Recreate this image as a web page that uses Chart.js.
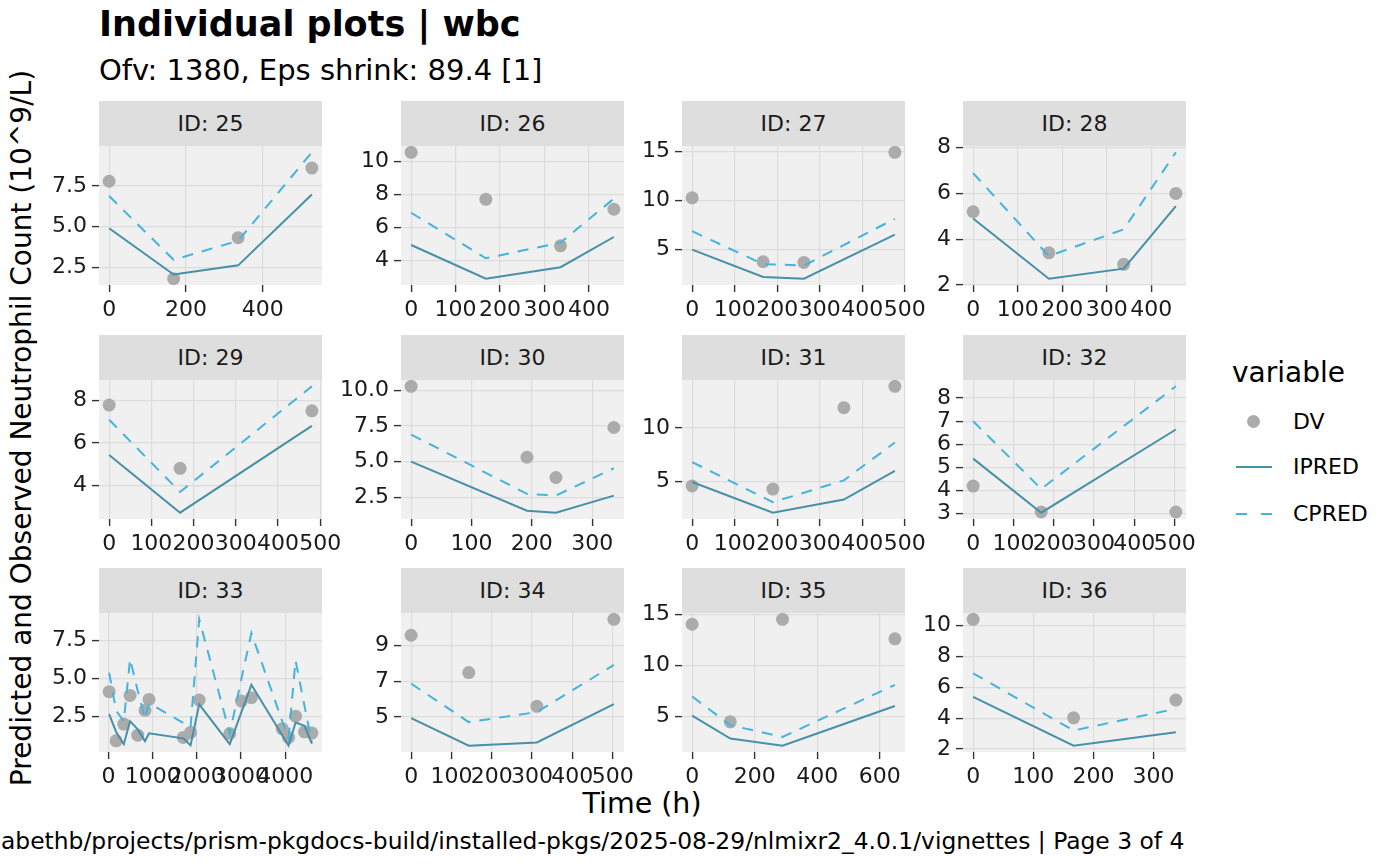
<!DOCTYPE html>
<html>
<head>
<meta charset="utf-8">
<script src="https://cdn.jsdelivr.net/npm/chart.js@4.4.1/dist/chart.umd.min.js"></script>
<style>
  body { margin:0; background:#fff; font-family:'DejaVu Sans', sans-serif; color:#000; }
  #wrap { position:relative; width:1400px; height:865px; overflow:hidden; background:#fff; }
  .txt { position:absolute; white-space:nowrap; line-height:1; }
  .strip { position:absolute; background:#DEDEDE; color:#1a1a1a; font-size:22px; line-height:1;
           display:flex; align-items:center; justify-content:center; }
  canvas { position:absolute; }
</style>
</head>
<body>
<div id="wrap">
  <div class="txt" style="left:99px;top:7px;font-size:35px;font-weight:bold;">Individual plots | wbc</div>
  <div class="txt" style="left:99px;top:56px;font-size:29px;">Ofv: 1380, Eps shrink: 89.4 [1]</div>
  <div class="txt" style="left:22px;top:428px;font-size:28px;transform:translate(-50%,-50%) rotate(-90deg);">Predicted and Observed Neutrophil Count (10^9/L)</div>
  <div class="txt" style="left:642px;top:790px;font-size:28.5px;transform:translateX(-50%);">Time (h)</div>
  <div class="txt" style="left:1px;top:830px;font-size:23.4px;">abethb/projects/prism-pkgdocs-build/installed-pkgs/2025-08-29/nlmixr2_4.0.1/vignettes | Page 3 of 4</div>

  <!-- legend -->
  <div class="txt" style="left:1232px;top:359px;font-size:28px;">variable</div>
  <div style="position:absolute;left:1247px;top:415px;width:13px;height:13px;border-radius:50%;background:#ABABAB;"></div>
  <div style="position:absolute;left:1236px;top:466px;width:36px;height:2px;background:#4690A8;"></div>
  <div style="position:absolute;left:1236px;top:513px;width:36px;height:2px;background:repeating-linear-gradient(90deg,#44B4DC 0 11px,transparent 11px 25px);"></div>
  <div class="txt" style="left:1293px;top:411px;font-size:22px;">DV</div>
  <div class="txt" style="left:1293px;top:456px;font-size:22px;">IPRED</div>
  <div class="txt" style="left:1293px;top:503px;font-size:22px;">CPRED</div>
</div>
<script>
// values, one row per subject
const ids = [25, 26, 27, 28, 29, 30, 31, 32, 33, 34, 35, 36];

const times = [
  [0, 168, 336, 528],
  [0, 168, 336, 456],
  [0, 167, 263, 477],
  [0, 170, 338, 455],
  [0, 168, 480],
  [0, 192, 240, 336],
  [0, 190, 357, 477],
  [0, 169, 503],
  [15, 173, 346, 489, 662, 827, 917, 1692, 1857, 2053, 2744, 3008, 3233, 3932, 4075, 4233, 4436, 4602],
  [0, 143, 312, 503],
  [0, 122, 289, 648],
  [0, 167, 337]
];

const dv = [
  [7.79, 1.8, 4.32, 8.6],
  [10.53, 7.7, 4.9, 7.1],
  [10.27, 3.73, 3.66, 14.93],
  [5.2, 3.4, 2.9, 6.0],
  [7.79, 4.8, 7.52],
  [10.29, 5.31, 3.89, 7.4],
  [4.56, 4.27, 11.9, 13.9],
  [4.19, 3.07, 3.07],
  [4.15, 0.92, 2.02, 3.9, 1.29, 2.92, 3.64, 1.14, 1.47, 3.6, 1.4, 3.53, 3.75, 1.71, 1.14, 2.54, 1.51, 1.43],
  [9.58, 7.49, 5.6, 10.47],
  [14.02, 4.51, 14.5, 12.6],
  [10.39, 4.02, 5.17]
];

const ipred = [
  [4.9, 2.06, 2.62, 6.98],
  [4.95, 2.92, 3.61, 5.43],
  [4.97, 2.18, 2.0, 6.5],
  [4.9, 2.27, 2.71, 5.45],
  [5.43, 2.7, 6.81],
  [5.0, 1.56, 1.42, 2.62],
  [4.94, 2.06, 3.29, 5.98],
  [5.38, 3.04, 6.64],
  [2.67, 1.5, 0.7, 2.21, 1.67, 0.9, 1.41, 1.08, 0.62, 3.32, 0.7, 2.8, 4.6, 1.28, 0.6, 2.12, 1.9, 0.74],
  [4.94, 3.4, 3.58, 5.72],
  [5.1, 2.87, 2.18, 6.05],
  [5.38, 2.22, 3.09]
];

const cpred = [
  [6.88, 2.96, 4.13, 9.57],
  [6.89, 4.15, 5.09, 7.74],
  [6.86, 3.49, 3.35, 8.13],
  [6.89, 3.26, 4.43, 7.8],
  [7.1, 3.68, 8.68],
  [6.9, 2.74, 2.62, 4.54],
  [6.8, 3.04, 5.09, 8.64],
  [7.0, 4.07, 8.51],
  [5.4, 2.9, 2.2, 6.3, 4.2, 2.4, 3.4, 2.1, 1.8, 8.9, 1.4, 5.0, 8.0, 2.2, 1.1, 6.2, 3.2, 0.8],
  [6.87, 4.72, 5.28, 7.92],
  [6.97, 4.18, 3.03, 8.11],
  [6.9, 3.2, 4.61]
];

const xTicks = [
  [0, 200, 400],
  [0, 100, 200, 300, 400],
  [0, 100, 200, 300, 400, 500],
  [0, 100, 200, 300, 400],
  [0, 100, 200, 300, 400, 500],
  [0, 100, 200, 300],
  [0, 100, 200, 300, 400, 500],
  [0, 100, 200, 300, 400, 500],
  [0, 1000, 2000, 3000, 4000],
  [0, 100, 200, 300, 400, 500],
  [0, 200, 400, 600],
  [0, 100, 200, 300]
];

const yTicks = [
  [2.5, 5.0, 7.5],
  [4, 6, 8, 10],
  [5, 10, 15],
  [2, 4, 6, 8],
  [4, 6, 8],
  [2.5, 5.0, 7.5, 10.0],
  [5, 10],
  [3, 4, 5, 6, 7, 8],
  [2.5, 5.0, 7.5],
  [5, 7, 9],
  [5, 10, 15],
  [2, 4, 6, 8, 10]
];

// layout of the facet grid
const colLeft = [99, 401, 682, 963];
const stripTop = [101, 335, 568];
const PW = 223, PH = 139, SH = 45;
const AXW = 72, AXH = 50, PADT = 14, PADR = 36;

const wrap = document.getElementById('wrap');
const tickFont = { family: 'DejaVu Sans', size: 22 };

function expand(vals) {
  const lo = Math.min(...vals), hi = Math.max(...vals), e = (hi - lo) * 0.05;
  return [lo - e, hi + e];
}

const panelBg = {
  id: 'panelBg',
  beforeDraw(chart) {
    const a = chart.chartArea, ctx = chart.ctx;
    ctx.save();
    ctx.fillStyle = '#F0F0F0';
    ctx.fillRect(a.left, a.top, a.right - a.left, a.bottom - a.top);
    ctx.restore();
  }
};

ids.forEach((id, i) => {
  const r = Math.floor(i / 4), c = i % 4;
  const L = colLeft[c], T = stripTop[r] + SH;

  const strip = document.createElement('div');
  strip.className = 'strip';
  strip.style.cssText = `left:${L}px;top:${stripTop[r]}px;width:${PW}px;height:${SH}px;`;
  strip.textContent = 'ID: ' + id;
  wrap.appendChild(strip);

  const cv = document.createElement('canvas');
  cv.width = AXW + PW + PADR;
  cv.height = PADT + PH + AXH;
  cv.style.left = (L - AXW) + 'px';
  cv.style.top = (T - PADT) + 'px';
  wrap.appendChild(cv);

  const [xmin, xmax] = expand(times[i]);
  const [ymin, ymax] = expand([...dv[i], ...ipred[i], ...cpred[i]]);
  const dec = yTicks[i].some(v => v % 1 !== 0) ? 1 : 0;
  const pts = arr => times[i].map((t, k) => ({ x: t, y: arr[k] }));

  const grid = { color: '#DCDCDC', lineWidth: 1.2, drawTicks: true, tickLength: 7, tickColor: '#333333', tickWidth: 1.4 };

  new Chart(cv.getContext('2d'), {
    type: 'line',
    data: {
      datasets: [
        { label: 'IPRED', data: pts(ipred[i]), borderColor: '#4690A8', borderWidth: 2, pointRadius: 0, fill: false, tension: 0 },
        { label: 'CPRED', data: pts(cpred[i]), borderColor: '#44B4DC', borderWidth: 2, borderDash: [11, 9], pointRadius: 0, fill: false, tension: 0 },
        { label: 'DV', data: pts(dv[i]), showLine: false, pointRadius: 6.5, pointBorderWidth: 0, pointBackgroundColor: '#ABABAB', pointBorderColor: '#ABABAB' }
      ]
    },
    options: {
      responsive: false, animation: false,
      layout: { padding: { left: 0, top: PADT, right: PADR, bottom: 0 } },
      plugins: { legend: { display: false }, tooltip: { enabled: false } },
      scales: {
        x: {
          type: 'linear', min: xmin, max: xmax,
          afterBuildTicks: s => { s.ticks = xTicks[i].map(v => ({ value: v })); },
          afterFit: s => { s.height = AXH; s.paddingLeft = 0; s.paddingRight = 0; },
          grid: grid, border: { display: false },
          ticks: { autoSkip: false, maxRotation: 0, minRotation: 0, padding: 5, color: '#1a1a1a', font: tickFont,
                   callback: v => String(v) }
        },
        y: {
          type: 'linear', min: ymin, max: ymax,
          afterBuildTicks: s => { s.ticks = yTicks[i].map(v => ({ value: v })); },
          afterFit: s => { s.width = AXW; s.paddingTop = 0; s.paddingBottom = 0; },
          grid: grid, border: { display: false },
          ticks: { autoSkip: false, padding: 5, color: '#1a1a1a', font: tickFont,
                   callback: v => Number(v).toFixed(dec) }
        }
      }
    },
    plugins: [panelBg]
  });
});
</script>
</body>
</html>
